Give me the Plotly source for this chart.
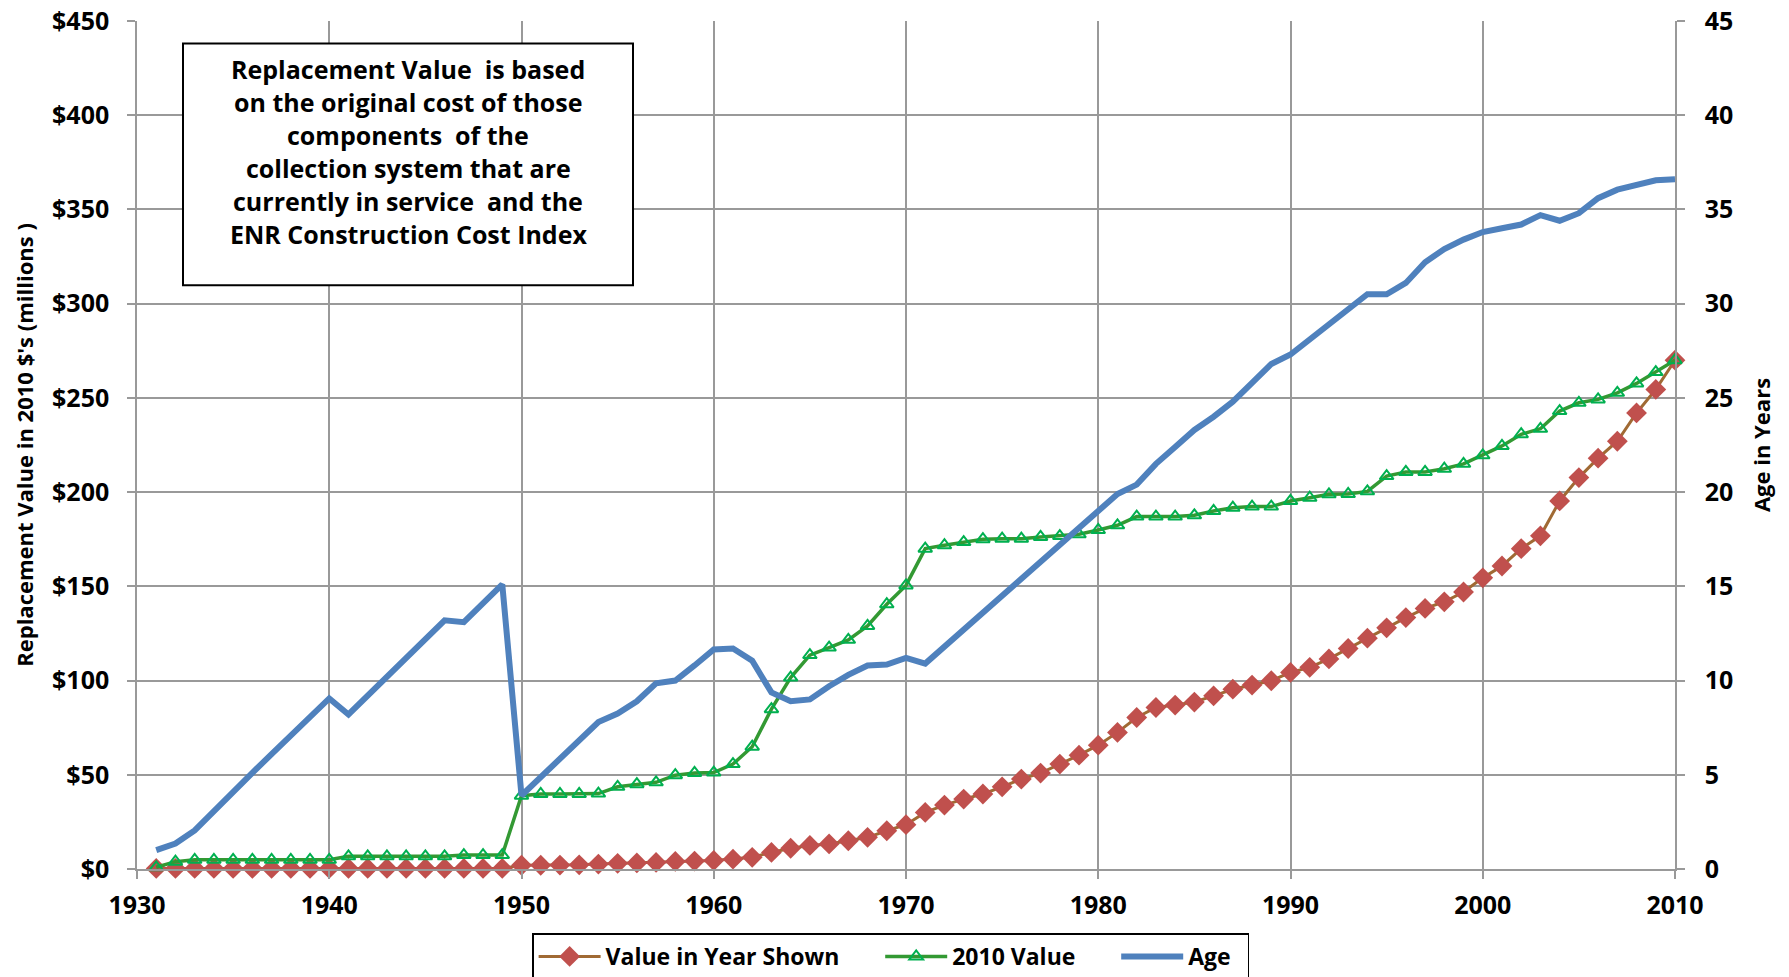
import plotly.graph_objects as go

years = list(range(1931, 2011))

value_in_year = [0.3, 0.3, 0.3, 0.3, 0.3, 0.3, 0.3, 0.3, 0.3, 0.3,
                 0.3, 0.3, 0.3, 0.3, 0.3, 0.3, 0.3, 0.3, 0.3,
                 2.0, 2.0, 2.1, 2.2, 2.6, 3.0, 3.2, 3.5, 4.0, 4.2, 4.5,
                 5.2, 6.2, 8.8, 11.0, 12.5, 13.3, 15.0, 16.8, 20.3, 23.5,
                 30.0, 33.9, 37.1, 39.8, 43.6, 47.7, 50.9, 55.7, 60.4, 65.7,
                 72.5, 80.4, 85.7, 87.0, 88.6, 91.9, 95.4, 97.6, 99.9, 104.3,
                 107.0, 111.5, 117.0, 122.5, 128.0, 133.4, 138.3, 141.8, 147.0, 154.5,
                 160.8, 170.0, 176.8, 195.3, 207.7, 218.0, 227.0, 242.0, 254.5, 270.0]

value_2010 = [0.9, 3.9, 4.9, 4.9, 4.9, 4.9, 4.9, 4.9, 4.9, 4.9,
              6.7, 6.7, 6.7, 6.7, 6.7, 6.7, 7.4, 7.4, 7.4,
              38.9, 39.8, 39.8, 39.8, 40.0, 43.6, 45.0, 46.0, 49.8, 51.0, 51.2,
              55.7, 64.9, 84.8, 101.6, 113.5, 117.5, 121.6, 129.0, 140.5, 150.5,
              170.0, 171.8, 173.5, 175.0, 175.3, 175.3, 176.2, 176.7, 177.6, 179.9,
              182.4, 187.0, 187.0, 187.0, 187.7, 190.0, 191.7, 192.3, 192.3, 195.3,
              197.0, 198.8, 199.0, 200.4, 208.5, 210.7, 210.7, 212.4, 215.0, 219.5,
              224.5, 230.7, 233.6, 243.0, 247.4, 249.2, 252.7, 257.7, 263.7, 270.0]

age = [1.0, 1.35, 2.05, 3.1, 4.1, 5.1, 6.1, 7.1, 8.1, 9.05,
       8.2, 9.2, 10.2, 11.2, 12.2, 13.2, 13.1, 14.1, 15.1,
       3.9, 4.9, 5.9, 6.9, 7.8, 8.25, 8.9, 9.85, 10.0, 10.8, 11.65,
       11.7, 11.05, 9.37, 8.9, 9.0, 9.7, 10.3, 10.8, 10.85, 11.2,
       10.9, 11.8, 12.7, 13.6, 14.6, 15.5, 16.4, 17.3, 18.2, 19.1,
       19.9, 20.4, 21.5, 22.4, 23.3, 24.0, 24.8, 25.8, 26.8, 27.3,
       28.1, 28.8, 29.7, 30.5, 30.5, 31.1, 32.2, 32.9, 33.4, 33.8,
       34.0, 34.2, 34.7, 34.4, 34.8, 35.6, 36.05, 36.3, 36.55, 36.6]

series_names = ["Value in Year Shown", "2010 Value", "Age"]

left_ticks = [0, 50, 100, 150, 200, 250, 300, 350, 400, 450]
left_labels = ["$" + str(v) for v in left_ticks]
right_ticks = [0, 5, 10, 15, 20, 25, 30, 35, 40, 45]
x_ticks = [1930, 1940, 1950, 1960, 1970, 1980, 1990, 2000, 2010]

note_lines = ["Replacement Value  is based",
              "on the original cost of those",
              "components  of the",
              "collection system that are",
              "currently in service  and the",
              "ENR Construction Cost Index"]

FONT = "Open Sans"
GRID = "#999999"
BOLD = dict(family=FONT, weight="bold", color="black")
PAD = "\u00a0" * 6

fig = go.Figure()
fig.add_trace(go.Scatter(
    x=years, y=value_in_year, name=series_names[0] + PAD, mode="lines+markers",
    line=dict(color="#A06A34", width=3),
    marker=dict(symbol="diamond", size=16, color="#C0504D", line=dict(width=0)),
    cliponaxis=False, yaxis="y"))
fig.add_trace(go.Scatter(
    x=years, y=value_2010, name=series_names[1] + PAD, mode="lines+markers",
    line=dict(color="#339933", width=3.5),
    marker=dict(symbol="triangle-up-open", size=12, color="#00B050", line=dict(width=2, color="#00B050")),
    cliponaxis=False, yaxis="y"))
fig.add_trace(go.Scatter(
    x=years, y=age, name=series_names[2] + "\u00a0\u00a0", mode="lines",
    line=dict(color="#4F81BD", width=6),
    cliponaxis=False, yaxis="y2"))

fig.update_layout(
    width=1789, height=977,
    margin=dict(l=137, r=114, t=20.5, b=107.5, autoexpand=False),
    paper_bgcolor="white", plot_bgcolor="white",
    font=dict(family=FONT, color="black"),
    xaxis=dict(range=[1930, 2010], tickvals=x_ticks, showgrid=True, gridcolor=GRID, gridwidth=1.5,
               showline=True, linecolor=GRID, linewidth=1.5, ticks="outside", ticklen=8, tickcolor=GRID,
               tickwidth=1.5, tickfont=dict(size=25, **BOLD), zeroline=False, ticklabelstandoff=5),
    yaxis=dict(range=[0, 450], tickvals=left_ticks, ticktext=left_labels, showgrid=True, gridcolor=GRID,
               gridwidth=1.5, showline=True, linecolor=GRID, linewidth=1.5, ticks="outside", ticklen=8,
               tickwidth=1.5, tickcolor=GRID, tickfont=dict(size=25, **BOLD), zeroline=False,
               ticklabelstandoff=13, ticklabeloverflow="allow",
               title=dict(text="Replacement Value in 2010 $'s (millions )",
                          font=dict(size=22, **BOLD), standoff=12)),
    yaxis2=dict(range=[0, 45], tickvals=right_ticks, overlaying="y", side="right", showgrid=False,
                showline=True, linecolor=GRID, linewidth=1.5, ticks="outside", ticklen=8, tickcolor=GRID,
                tickwidth=1.5, tickfont=dict(size=25, **BOLD), zeroline=False,
                ticklabelstandoff=15, ticklabeloverflow="allow",
                title=dict(text="Age in Years", font=dict(size=22, **BOLD), standoff=22)),
    legend=dict(orientation="h", x=0.49, xanchor="center", y=-0.076, yanchor="top",
                bordercolor="black", borderwidth=1.5, bgcolor="white",
                font=dict(size=23, **BOLD), itemwidth=62, tracegroupgap=0),
    showlegend=True,
)

# note box
box_x0, box_x1 = (183 - 137) / 1538, (633 - 137) / 1538
box_y1, box_y0 = (869.5 - 43) / 849, (869.5 - 285) / 849
fig.add_shape(type="rect", xref="paper", yref="paper", x0=box_x0, x1=box_x1, y0=box_y0, y1=box_y1,
              line=dict(color="black", width=2), fillcolor="white", layer="above")
for i, line in enumerate(note_lines):
    ypix = 69 + i * 32.9
    fig.add_annotation(xref="paper", yref="paper", x=(box_x0 + box_x1) / 2, y=(869.5 - ypix) / 849,
                       text=line, showarrow=False, xanchor="center", yanchor="middle",
                       font=dict(size=25, **BOLD))

fig.write_html("out.html", config={"displayModeBar": False},
               post_script="document.body.style.margin='0px';document.body.style.overflow='hidden';")
